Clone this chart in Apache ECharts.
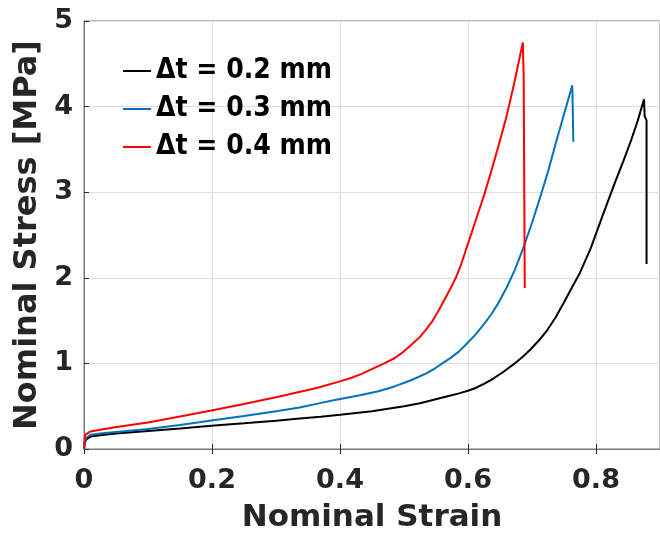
<!DOCTYPE html>
<html><head><meta charset="utf-8">
<script src="https://cdn.jsdelivr.net/npm/echarts@6/dist/echarts.min.js"></script>
<style>html,body{margin:0;padding:0;background:#fff}#c{width:660px;height:543px}</style>
</head><body><div id="c"></div><script>
// Series names
const seriesNames = ['\u0394t = 0.2 mm', '\u0394t = 0.3 mm', '\u0394t = 0.4 mm'];

// Δt = 0.2 mm
const strain02 = [0, 0.001, 0.003, 0.0105, 0.025, 0.05, 0.1, 0.15, 0.199, 0.25, 0.3, 0.337, 0.37, 0.4, 0.45, 0.5, 0.525, 0.545, 0.565, 0.586, 0.6, 0.611, 0.625, 0.637, 0.655, 0.673, 0.686, 0.698, 0.711, 0.724, 0.737, 0.749, 0.762, 0.775, 0.792, 0.81, 0.83, 0.843, 0.855, 0.865, 0.875, 0.876, 0.879, 0.879];
const stress02 = [0, 0.06, 0.11, 0.147, 0.16, 0.18, 0.21, 0.24, 0.271, 0.30, 0.33, 0.356, 0.378, 0.40, 0.44, 0.50, 0.535, 0.573, 0.61, 0.65, 0.68, 0.71, 0.76, 0.81, 0.90, 1.0, 1.08, 1.165, 1.27, 1.39, 1.54, 1.70, 1.88, 2.06, 2.35, 2.72, 3.12, 3.37, 3.61, 3.83, 4.085, 3.89, 3.84, 2.16];

// Δt = 0.3 mm
const strain03 = [0, 0.001, 0.003, 0.0105, 0.025, 0.05, 0.1, 0.15, 0.199, 0.25, 0.3, 0.337, 0.365, 0.392, 0.433, 0.46, 0.484, 0.51, 0.535, 0.548, 0.56, 0.573, 0.586, 0.598, 0.611, 0.624, 0.637, 0.647, 0.66, 0.673, 0.686, 0.699, 0.712, 0.725, 0.737, 0.75, 0.763, 0.7646];
const stress03 = [0, 0.07, 0.128, 0.166, 0.18, 0.20, 0.235, 0.28, 0.333, 0.385, 0.44, 0.484, 0.53, 0.573, 0.631, 0.675, 0.728, 0.80, 0.883, 0.94, 1.0, 1.065, 1.14, 1.23, 1.33, 1.45, 1.58, 1.70, 1.88, 2.09, 2.34, 2.62, 2.92, 3.24, 3.57, 3.91, 4.25, 3.59];

// Δt = 0.4 mm
const strain04 = [0, 0.001, 0.002, 0.0105, 0.025, 0.051, 0.1, 0.15, 0.199, 0.25, 0.3, 0.331, 0.365, 0.4, 0.417, 0.433, 0.469, 0.485, 0.499, 0.512, 0.525, 0.535, 0.545, 0.555, 0.565, 0.573, 0.581, 0.589, 0.596, 0.604, 0.612, 0.624, 0.635, 0.648, 0.66, 0.673, 0.6857, 0.687, 0.6887];
const stress04 = [0, 0.10, 0.167, 0.205, 0.225, 0.256, 0.31, 0.38, 0.449, 0.525, 0.605, 0.658, 0.715, 0.79, 0.83, 0.875, 1.0, 1.06, 1.135, 1.22, 1.31, 1.40, 1.50, 1.63, 1.77, 1.88, 2.0, 2.15, 2.31, 2.49, 2.67, 2.94, 3.21, 3.55, 3.88, 4.30, 4.75, 4.35, 1.88];

const seriesColors = ['#000000', '#0072BD', '#FF0000'];
const xTicks = { min: 0, max: 0.9, interval: 0.2 };
const yTicks = { min: 0, max: 5, interval: 1 };

function zip(xs, ys) { return xs.map((x, i) => [x, ys[i]]); }
const allData = [zip(strain02, stress02), zip(strain03, stress03), zip(strain04, stress04)];

const chart = echarts.init(document.getElementById('c'), null, { renderer: 'canvas' });
const axisColor = '#7a7a7a';
const textColor = '#262626';
const labelFont = { fontFamily: 'DejaVu Sans', fontWeight: 'bold', fontSize: 27, color: textColor };

chart.setOption({
  animation: false,
  backgroundColor: '#ffffff',
  grid: { left: 84, top: 21, bottom: 94, right: -12, show: true, borderColor: axisColor, borderWidth: 1, containLabel: false },
  legend: {
    data: seriesNames, orient: 'vertical', left: 123, top: 57, padding: 0, itemGap: 10,
    icon: 'rect', itemWidth: 28, itemHeight: 2,
    textStyle: { fontFamily: 'DejaVu Sans Condensed', fontWeight: 'bold', fontSize: 28, color: '#000' }
  },
  xAxis: [{
    type: 'value', min: xTicks.min, max: xTicks.max, interval: xTicks.interval,
    name: 'Nominal Strain', nameLocation: 'middle', nameGap: 53,
    nameTextStyle: { fontFamily: 'DejaVu Sans', fontWeight: 'bold', fontSize: 31, color: textColor },
    axisLine: { show: true, onZero: false, lineStyle: { color: axisColor, width: 1 } },
    axisTick: { show: true, inside: true, length: 5, lineStyle: { color: '#262626' } },
    axisLabel: Object.assign({ margin: 18, showMaxLabel: false }, labelFont),
    splitLine: { show: true, lineStyle: { color: '#dedede', width: 1 } }
  }, {
    type: 'value', position: 'top', min: xTicks.min, max: xTicks.max, interval: xTicks.interval,
    axisLine: { show: false }, axisLabel: { show: false }, splitLine: { show: false },
    axisTick: { show: true, inside: true, length: 5, lineStyle: { color: '#262626' } }
  }],
  yAxis: [{
    type: 'value', min: yTicks.min, max: yTicks.max, interval: yTicks.interval,
    name: 'Nominal Stress [MPa]', nameLocation: 'middle', nameGap: 36,
    nameTextStyle: { fontFamily: 'DejaVu Sans', fontWeight: 'bold', fontSize: 32, color: textColor },
    axisLine: { show: true, onZero: false, lineStyle: { color: axisColor, width: 1 } },
    axisTick: { show: true, inside: true, length: 5, lineStyle: { color: '#262626' } },
    axisLabel: Object.assign({ margin: 11 }, labelFont),
    splitLine: { show: true, lineStyle: { color: '#dedede', width: 1 } }
  }],
  series: allData.map((d, i) => ({
    name: seriesNames[i], type: 'line', data: d, symbol: 'none', smooth: false,
    lineStyle: { color: seriesColors[i], width: 2 }, itemStyle: { color: seriesColors[i] },
    z: 3 + i
  }))
});
</script></body></html>
